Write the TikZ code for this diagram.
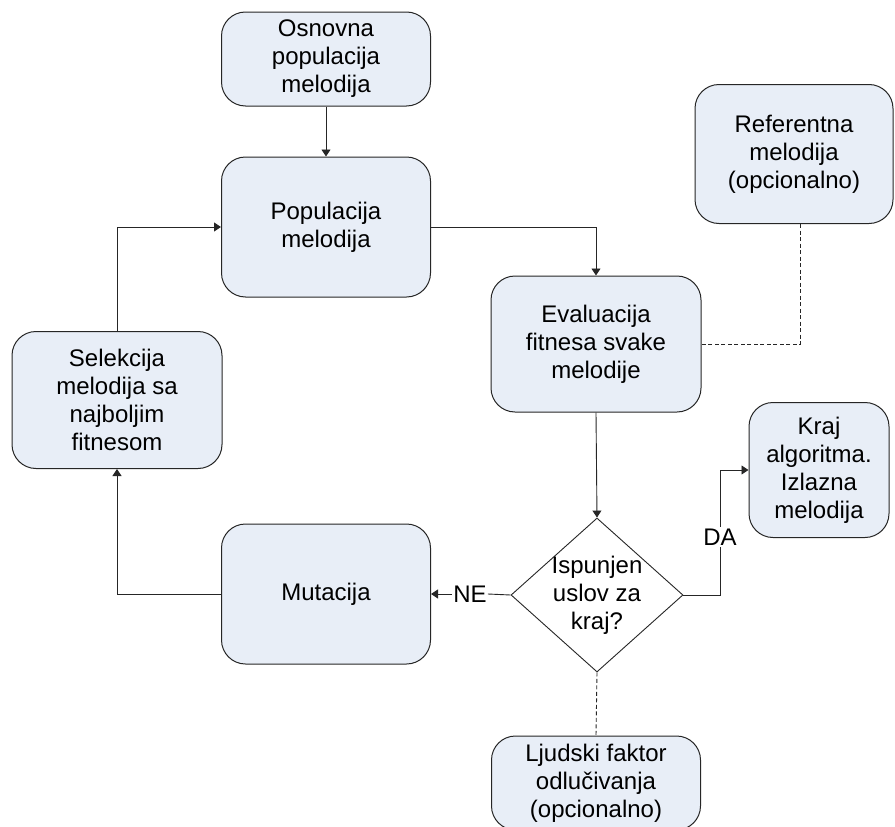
\documentclass[tikz,border=0pt]{standalone}
\usepackage{fontspec}
\setmainfont{Liberation Sans}
\usetikzlibrary{shapes.geometric,arrows.meta}
\definecolor{boxfill}{RGB}{232,238,247}
\begin{document}
\begin{tikzpicture}[x=1pt,y=-1pt,
  every node/.style={font=\fontsize{24}{28}\selectfont, align=center},
  rbox/.style={draw=black!85, line width=1pt, fill=boxfill, rounded corners=24pt, inner sep=0pt},
  conn/.style={draw=black!85, line width=0.9pt},
  arr/.style={conn, -{Triangle[width=9pt,length=7pt]}},
  dashconn/.style={conn, dashed, dash pattern=on 4pt off 2.5pt}
]
\useasboundingbox (0,0) rectangle (895,827);
\node[rbox, minimum width=209pt, minimum height=94pt] (osn) at (326,59) {Osnovna\\populacija\\melodija};
\node[rbox, minimum width=209pt, minimum height=140pt] (pop) at (326,227) {Populacija\\melodija};
\node[rbox, minimum width=210pt, minimum height=136pt] (eval) at (596,344) {Evaluacija\\fitnesa svake\\melodije};
\node[rbox, minimum width=198pt, minimum height=139pt] (ref) at (794,154) {Referentna\\melodija\\(opcionalno)};
\node[rbox, minimum width=210pt, minimum height=137pt] (sel) at (117,400) {Selekcija\\melodija sa\\najboljim\\fitnesom};
\node[rbox, minimum width=209pt, minimum height=140pt] (mut) at (326,594) {Mutacija};
\node[rbox, minimum width=140pt, minimum height=135pt] (kraj) at (819,470) {Kraj\\algoritma.\\Izlazna\\melodija};
\node[rbox, minimum width=209pt, minimum height=94pt] (ljud) at (596,783) {Ljudski faktor\\odlučivanja\\(opcionalno)};
\node[diamond, draw=black!85, line width=0.9pt, fill=white, minimum width=172pt, minimum height=154pt, inner sep=0pt,
  label={center:Ispunjen\\uslov za\\kraj?}] (dec) at (597,595) {};
\node[inner sep=1pt] (ne) at (470,594) {NE};
\node[inner sep=2pt, fill=white] (da) at (720,537) {DA};

\draw[arr] (osn.south) -- (pop.north);
\draw[arr] (sel.north) |- (pop.west);
\draw[arr] (pop.east) -| (eval.north);
\draw[dashconn] ([xshift=6pt]ref.south) |- (eval.east);
\draw[arr] (eval.south) -- (dec.north);
\draw[conn] (dec.west) -- (ne.east);
\draw[arr] (ne.west) -- (mut.east);
\draw[conn] (dec.east) -| (da.south);
\draw[arr] (da.north) |- (kraj.west);
\draw[arr] (mut.west) -| (sel.south);
\draw[dashconn] (dec.south) -- (ljud.north);
\end{tikzpicture}
\end{document}
